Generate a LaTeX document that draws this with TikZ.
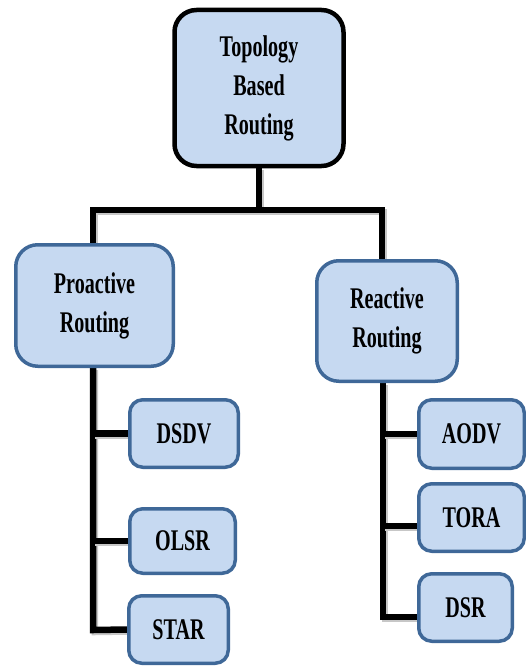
\documentclass[tikz,border=0pt]{standalone}
\usepackage{fontspec}
\setmainfont{Liberation Serif}[FakeStretch=0.67]
\usetikzlibrary{backgrounds}
\definecolor{boxfill}{HTML}{C6D9F1}
\definecolor{boxedge}{HTML}{3F6898}
\begin{document}
\begin{tikzpicture}[x=1pt,y=-1pt,
  basebox/.style={rectangle, fill=boxfill, align=center, inner sep=0pt,
    font=\bfseries\fontsize{30}{39}\selectfont},
  rootbox/.style={basebox, draw=black, line width=4.5pt, rounded corners=22pt},
  midbox/.style={basebox, draw=boxedge, line width=3.5pt, rounded corners=22pt},
  leafbox/.style={basebox, draw=boxedge, line width=3.5pt, rounded corners=13pt},
  link/.style={draw=black, line width=6.5pt, miter limit=10,
    preaction={draw=black!22, line width=6.5pt,
      transform canvas={xshift=1.8pt,yshift=-2pt}}}]
\useasboundingbox (0,0) rectangle (526,666);

% tree nodes
\node[rootbox, minimum width=169pt, minimum height=156pt] (root) at (259,88) {Topology\\Based\\Routing};
\node[midbox, minimum width=157.5pt, minimum height=121.5pt] (pro) at (94.5,305.5) {Proactive\\Routing};
\node[midbox, minimum width=140.5pt, minimum height=120.5pt] (rea) at (387,321) {Reactive\\Routing};

\node[leafbox, minimum width=108.5pt, minimum height=67.5pt] (dsdv) at (184,433.5) {DSDV};
\node[leafbox, minimum width=105.5pt, minimum height=64.5pt] (olsr) at (182.5,541) {OLSR};
\node[leafbox, minimum width=99.5pt, minimum height=67.5pt] (star) at (178.5,629.5) {STAR};

\node[leafbox, minimum width=105.5pt, minimum height=68.5pt] (aodv) at (471.5,434) {AODV};
\node[leafbox, minimum width=105.5pt, minimum height=67.5pt] (tora) at (471.5,517.5) {TORA};
\node[leafbox, minimum width=93.5pt, minimum height=67.5pt] (dsr) at (465.5,607.5) {DSR};

% junction points of the connectors
\coordinate (busL) at (93,210);
\coordinate (busR) at (382,210);
\coordinate (trunkL) at (93,630);
\coordinate (trunkR) at (383,617);

\begin{scope}[on background layer]
  \draw[link] (root.south) -- (root.south |- busL);
  \draw[link] (busL |- pro.north) -- (busL) -- (busR) -- (busR |- rea.north);
  % proactive branch
  \draw[link] (busL |- pro.south) -- (trunkL) -- (star.west);
  \draw[link] (trunkL |- dsdv.west) -- (dsdv.west);
  \draw[link] (trunkL |- olsr.west) -- (olsr.west);
  % reactive branch
  \draw[link] (trunkR |- rea.south) -- (trunkR) -- (trunkR -| dsr.west);
  \draw[link] (trunkR |- aodv.west) -- (aodv.west);
  \draw[link] ([yshift=-8.5pt]tora.west -| trunkR) -- ([yshift=-8.5pt]tora.west);
\end{scope}
\end{tikzpicture}
\end{document}
